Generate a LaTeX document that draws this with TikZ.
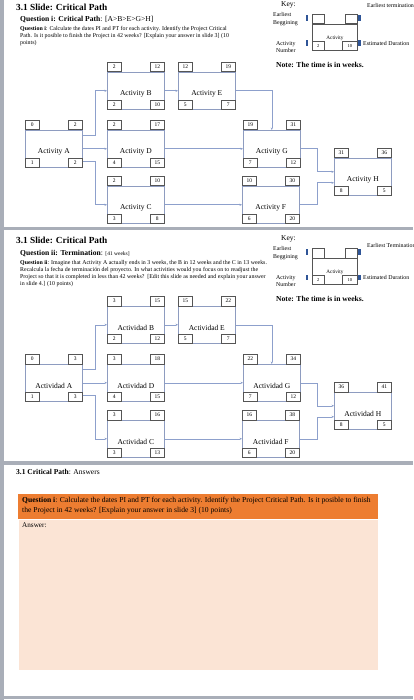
\documentclass[tikz,border=0pt]{standalone}
\usepackage{fontspec}
\setmainfont{Liberation Serif}
\usetikzlibrary{arrows.meta}
\definecolor{sepgray}{HTML}{A9AEB8}
\definecolor{connc}{HTML}{8DA0CC}
\definecolor{boxc}{HTML}{8E9CC0}
\definecolor{smallc}{HTML}{555555}
\definecolor{orangec}{HTML}{ED7D31}
\definecolor{peachc}{HTML}{FBE4D5}
\definecolor{markc}{HTML}{2F5597}
\newcommand\fs[1]{\fontsize{#1}{#1}\selectfont}
\tikzset{
  mainbox/.style={draw=boxc, line width=0.6pt, minimum width=57pt, minimum height=37pt, inner sep=0pt, anchor=north west},
  smallbox/.style={draw=smallc, fill=white, line width=0.5pt, minimum width=14pt, minimum height=9.5pt, inner sep=0pt, font=\fs{5.5}},
  actlabel/.style={font=\fs{7.5}, inner sep=0pt},
  conn/.style={draw=connc, line width=0.6pt, -{Stealth[length=2.5pt,width=2.2pt]}},
  keymain/.style={draw=smallc, line width=0.5pt, minimum width=45pt, minimum height=26pt, inner sep=0pt, anchor=north west},
  keysmall/.style={draw=smallc, fill=white, line width=0.5pt, minimum width=12pt, minimum height=9pt, inner sep=0pt, font=\fs{4.5}},
  keylbl/.style={font=\fontsize{5.9}{7.6}\selectfont, inner sep=0pt, align=left},
  headtxt/.style={font=\fontsize{5.9}{7}\selectfont, inner sep=0pt, align=left, anchor=north west},
  sepbar/.style={fill=sepgray, draw=none},
}
\newcommand\act[8]{%
  \node[mainbox] (#1) at (#2,#3) {};
  \node[smallbox, anchor=south west] (#1es) at (#1.north west) {#5};
  \node[smallbox, anchor=south east] (#1ef) at (#1.north east) {#6};
  \node[smallbox, anchor=south west] (#1no) at (#1.south west) {#7};
  \node[smallbox, anchor=south east] (#1du) at (#1.south east) {#8};
  \node[actlabel] (#1lb) at ([yshift=-3pt]#1.center) {#4};
}
\newcommand\keyblock[3]{% #1 suffix, #2 termination label, #3 its y
  \node[font=\fs{7.5}, anchor=west, inner sep=0pt] (Kk#1) at (281,5) {Key:};
  \node[keymain] (Km#1) at (312,24) {};
  \node[keysmall, anchor=south west] (Ka#1) at (Km#1.north west) {};
  \node[keysmall, anchor=south east] (Kb#1) at (Km#1.north east) {};
  \node[keysmall, anchor=south west] (Kc#1) at (Km#1.south west) {2};
  \node[keysmall, anchor=south east, minimum width=15pt] (Kd#1) at (Km#1.south east) {10};
  \node[font=\fs{5.2}, inner sep=0pt] (Kt#1) at (335,38.5) {Activity};
  \node[keylbl, anchor=west] (Ke#1) at (273,19) {Earliest\\Beggining};
  \node[keylbl, anchor=west] (Kn#1) at (276,47) {Activity\\Number};
  \node[keylbl, anchor=west] (Kf#1) at (367,#3) {#2};
  \node[keylbl, anchor=west] (Kg#1) at (363,43) {Estimated Duration};
  \fill[markc] (305.8,15.5) rectangle (308.2,21);
  \fill[markc] (305.8,40.5) rectangle (308.2,46);
  \fill[markc] (358.2,15.5) rectangle (360.6,21);
  \fill[markc] (358.2,40.5) rectangle (360.6,46);
  \node[font=\fs{7.6}\bfseries, anchor=west, inner sep=0pt] (Kx#1) at (276,65) {Note: The time is in weeks.};
}
\begin{document}
\begin{tikzpicture}[x=1pt,y=-1pt]
\useasboundingbox[fill=white] (0,0) rectangle (413,700);
% separators
\fill[sepgray] (0,0) rectangle (3.5,700);
\fill[sepgray] (0,227) rectangle (413,230.5);
\fill[sepgray] (0,461) rectangle (413,464.5);
\fill[sepgray] (0,695.5) rectangle (413,699);

% ---------- slide 1 ----------
\node[anchor=west, font=\fs{9.3}\bfseries, inner sep=0pt] (T1) at (16,7) {3.1 Slide: Critical Path};
\node[anchor=west, font=\fs{7.6}, inner sep=0pt] (Q1) at (20,19) {\textbf{Question i: Critical Path}: [A>B>E>G>H]};
\node[headtxt] (Q1t) at (20,26.5) {\textbf{Question i}: Calculate the dates PI and PT for each activity. Identify the Project Critical\\Path. Is it posible to finish the Project in 42 weeks? [Explain your answer in slide 3] (10\\points)};
\keyblock{1}{Earliest termination}{5}
\act{A1}{25}{130}{Activity A}{0}{2}{1}{2}
\act{B1}{107}{72}{Activity B}{2}{12}{2}{10}
\act{D1}{107}{130}{Activity D}{2}{17}{4}{15}
\act{C1}{107}{186}{Activity C}{2}{10}{3}{8}
\act{E1}{178}{72}{Activity E}{12}{19}{5}{7}
\act{G1}{243}{130}{Activity G}{19}{31}{7}{12}
\act{F1}{242}{186}{Activity F}{10}{30}{6}{20}
\act{H1}{334}{158}{Activity H}{31}{36}{8}{5}
\draw[conn] ([yshift=-5pt]A1.north east) -- ++(13,0) |- (B1.west);
\draw[conn] (A1.east) -- (D1.west);
\draw[conn] ([yshift=6pt]A1.south east) -- ++(13,0) |- (C1.west);
\draw[conn] (B1.east) -- (E1.west);
\draw[conn] (E1.east) -| (G1.north);
\draw[conn] (D1.east) -- (G1.west);
\draw[conn] (C1.east) -- (F1.west);
\draw[conn] (G1.east) -- ++(17,0) |- ([yshift=5pt]H1.west);
\draw[conn] (F1.east) -- ++(18,0) |- ([yshift=-6pt]H1.west);

% ---------- slide 2 ----------
\begin{scope}[shift={(0,234)}]
\node[anchor=west, font=\fs{9.3}\bfseries, inner sep=0pt] (T2) at (16,6) {3.1 Slide: Critical Path};
\node[anchor=west, font=\fs{7.6}, inner sep=0pt] (Q2) at (20,19) {\textbf{Question ii: Termination}: {\fs{5.5}[41 weeks]}};
\node[headtxt] (Q2t) at (20,26.5) {\textbf{Question ii}: Imagine that Activity A actually ends in 3 weeks, the B in 12 weeks and the C in 13 weeks.\\Recalcula la fecha de terminación del proyecto. In what activities would you focus on to readjust the\\Project so that it is completed in less than 42 weeks?\enspace[Edit this slide as needed and explain your answer\\in slide 4.] (10 points)};
\keyblock{2}{Earliest Termination}{11}
\act{A2}{25}{130}{Actividad A}{0}{3}{1}{3}
\act{B2}{107}{72}{Actividad B}{3}{15}{2}{12}
\act{D2}{107}{130}{Actividad D}{3}{18}{4}{15}
\act{C2}{107}{186}{Actividad C}{3}{16}{3}{13}
\act{E2}{178}{72}{Actividad E}{15}{22}{5}{7}
\act{G2}{243}{130}{Actividad G}{22}{34}{7}{12}
\act{F2}{242}{186}{Actividad F}{16}{38}{6}{20}
\act{H2}{334}{158}{Actividad H}{36}{41}{8}{5}
\draw[conn] ([yshift=-5pt]A2.north east) -- ++(13,0) |- (B2.west);
\draw[conn] (A2.east) -- (D2.west);
\draw[conn] ([yshift=6pt]A2.south east) -- ++(13,0) |- (C2.west);
\draw[conn] (B2.east) -- (E2.west);
\draw[conn] (E2.east) -| (G2.north);
\draw[conn] (D2.east) -- (G2.west);
\draw[conn] (C2.east) -- (F2.west);
\draw[conn] (G2.east) -- ++(17,0) |- ([yshift=5pt]H2.west);
\draw[conn] (F2.east) -- ++(18,0) |- ([yshift=-6pt]H2.west);
\end{scope}

% ---------- slide 3 ----------
\node[anchor=west, font=\fs{7.5}, inner sep=0pt] (T3) at (16,472) {\textbf{3.1 Critical Path}: Answers};
\node[fill=orangec, draw=none, minimum width=360pt, minimum height=25pt, inner sep=0pt, anchor=north west] (OB) at (18,494) {};
\node[anchor=north west, font=\fontsize{7.6}{10}\selectfont, align=left, inner sep=0pt] (OT) at (22,497) {\textbf{Question i}: Calculate the dates PI and PT for each activity. Identify the Project Critical Path. Is it posible to finish\\the Project in 42 weeks? [Explain your answer in slide 3] (10 points)};
\node[fill=peachc, draw=none, minimum width=359pt, minimum height=150pt, inner sep=0pt, anchor=north west] (PB) at (19,520) {};
\node[anchor=north west, font=\fs{7.2}, inner sep=0pt] (AN) at (22,522.5) {Answer:};
\end{tikzpicture}
\end{document}
